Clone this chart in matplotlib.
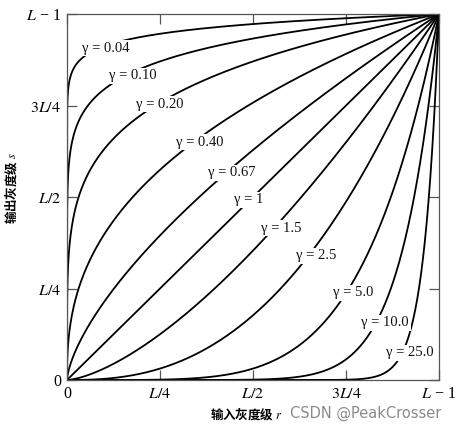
import numpy as np
import matplotlib
matplotlib.use("Agg")
import matplotlib.pyplot as plt

plt.rcParams['mathtext.fontset'] = 'stix'
plt.rcParams['font.family'] = ['Liberation Serif', 'DejaVu Serif']

gammas = [0.04, 0.10, 0.20, 0.40, 0.67, 1, 1.5, 2.5, 5.0, 10.0, 25.0]
gamma_labels = ["0.04", "0.10", "0.20", "0.40", "0.67", "1", "1.5", "2.5", "5.0", "10.0", "25.0"]
# label centre positions (data coords, 0..1 = 0..L-1)
label_x = [0.105, 0.178, 0.250, 0.358, 0.444, 0.489, 0.575, 0.669, 0.769, 0.855, 0.922]
label_y = [0.907, 0.831, 0.754, 0.650, 0.566, 0.492, 0.415, 0.339, 0.238, 0.156, 0.074]

tick_pos = [0, 0.25, 0.5, 0.75, 1.0]
tick_labels = ["0", r"$L/4$", r"$L/2$", r"$3L/4$", r"$L$ − 1"]

fig = plt.figure(figsize=(4.63, 4.29), dpi=100)
ax = fig.add_axes([0.1447, 0.1142, 0.8035, 0.8531])

r = np.linspace(0, 1, 2000)
for g, lab, lx, ly in zip(gammas, gamma_labels, label_x, label_y):
    ax.plot(r, r ** g, color='black', lw=1.3, solid_capstyle='butt')
    ax.text(lx, ly, "γ = " + lab, ha='center', va='center', fontsize=10.5,
            color='#111111',
            bbox=dict(boxstyle='square,pad=0.12', fc='white', ec='none'), zorder=5)

ax.set_xlim(0, 1)
ax.set_ylim(0, 1)
ax.set_xticks(tick_pos)
ax.set_yticks(tick_pos)
ax.set_xticklabels(tick_labels, fontsize=11.5)
ax.set_yticklabels(tick_labels, fontsize=11.5)
ax.tick_params(direction='in', length=7, width=0.9, color='#555555',
               top=True, right=True, pad=4)
for sp in ax.spines.values():
    sp.set_linewidth(0.9)
    sp.set_color('#555555')

fig.text(0.022, 0.562, "输出灰度级 $s$", rotation=90, ha='center', va='center',
         fontsize=9, fontweight='bold', family=['Noto Sans CJK SC', 'DejaVu Sans'])

fig.text(0.453, 0.037, "输入灰度级 $r$", ha='left', va='center', fontsize=9,
         fontweight='bold', family=['Noto Sans CJK SC', 'DejaVu Sans'])
fig.text(0.627, 0.037, "CSDN @PeakCrosser", ha='left', va='center', fontsize=10.5,
         color='#8a8a8a', family=['DejaVu Sans'])

fig.savefig("out.png", dpi=100)
